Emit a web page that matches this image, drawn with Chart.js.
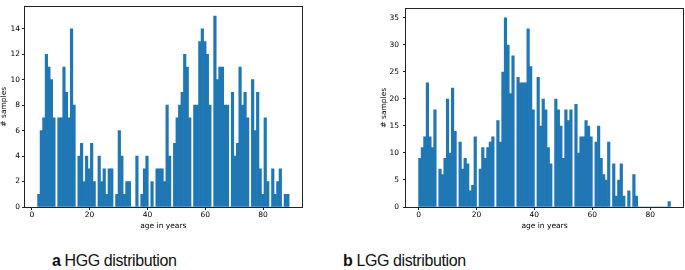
<!DOCTYPE html>
<html><head><meta charset="utf-8">
<script src="https://cdn.jsdelivr.net/npm/chart.js@4/dist/chart.umd.min.js"></script>
<style>
html,body{margin:0;padding:0;background:#fff;width:685px;height:270px;overflow:hidden;position:relative}
.box{position:absolute;top:0}
.cap{position:absolute;font-family:"Liberation Sans",Arial,sans-serif;font-size:16px;line-height:16px;color:#111;white-space:nowrap;letter-spacing:-0.4px}
</style></head><body>
<div class="box" style="left:0px"><canvas id="c1" width="310" height="232"></canvas></div>
<div class="box" style="left:370px"><canvas id="c2" width="315" height="232"></canvas></div>
<div class="cap" style="left:52px;top:253px"><b>a</b> HGG distribution</div>
<div class="cap" style="left:343px;top:253px"><b>b</b> LGG distribution</div>
<script>
// Histogram data: 100 bins over each age range
const NUM_BINS = 100;
const HGG_AGE_RANGE = [2, 89];
const LGG_AGE_RANGE = [0, 87];
const HGG_COUNTS = [
  1, 6, 7, 12, 11, 10, 7, 0, 7, 7,
  11, 9, 7, 14, 8, 0, 4, 5, 2, 4,
  3, 5, 2, 0, 4, 2, 3, 1, 3, 3,
  0, 1, 6, 4, 1, 2, 2, 0, 0, 4,
  0, 1, 3, 4, 0, 2, 0, 3, 3, 3,
  2, 8, 4, 0, 5, 7, 8, 9, 12, 11,
  7, 0, 8, 8, 13, 14, 13, 12, 8, 0,
  15, 10, 11, 11, 8, 8, 0, 9, 4, 5,
  11, 8, 9, 7, 0, 10, 6, 9, 3, 1,
  7, 2, 0, 3, 1, 2, 3, 0, 1, 1
];
const LGG_COUNTS = [
  9, 11, 13, 23, 13, 11, 18, 0, 7, 6,
  9, 20, 10, 22, 14, 0, 12, 7, 9, 8,
  3, 4, 13, 0, 7, 11, 9, 11, 12, 13,
  0, 16, 12, 25, 35, 30, 21, 28, 0, 24,
  23, 23, 23, 33, 26, 18, 0, 24, 15, 20,
  18, 11, 8, 0, 20, 18, 15, 9, 18, 16,
  18, 0, 19, 10, 13, 13, 16, 15, 13, 0,
  12, 15, 9, 6, 5, 12, 0, 8, 2, 5,
  8, 2, 0, 3, 0, 6, 2, 0, 0, 0,
  0, 0, 0, 0, 0, 0, 0, 0, 0, 1
];
const X_TICK_STEP = 20;
const HGG_Y_STEP = 2;
const LGG_Y_STEP = 5;
const X_TITLE = 'age in years';
const Y_TITLE = '# samples';

const BAR_COLOR = '#1f77b4';
const TXT = '#000';
const FONT = {family: "'DejaVu Sans', sans-serif", size: 7.5};

function binPoints(range, counts) {
  const w = (range[1] - range[0]) / NUM_BINS;
  return counts.map((c, i) => ({x: range[0] + (i + 0.5) * w, y: c}));
}

const framePlugin = {
  id: 'frame',
  afterDraw(chart) {
    const {ctx, chartArea: a} = chart;
    ctx.save();
    ctx.strokeStyle = '#222';
    ctx.lineWidth = 1;
    const l = Math.round(a.left), t = Math.round(a.top), r = Math.round(a.right), b = Math.round(a.bottom);
    ctx.strokeRect(l - 0.5, t - 0.5, r - l + 1, b - t + 1);
    ctx.restore();
  }
};

function makeChart(id, range, counts, yStep, cfg) {
  const span = range[1] - range[0];
  const maxC = Math.max(...counts);
  new Chart(document.getElementById(id), {
    type: 'bar',
    data: {datasets: [{
      data: binPoints(range, counts),
      backgroundColor: BAR_COLOR,
      borderWidth: 0,
      barPercentage: 1,
      categoryPercentage: 1
    }]},
    plugins: [framePlugin],
    options: {
      responsive: false,
      animation: false,
      devicePixelRatio: 1,
      layout: {padding: {left: 0, top: 2, right: cfg.padRight, bottom: 0}},
      plugins: {legend: {display: false}, tooltip: {enabled: false}},
      scales: {
        x: {
          type: 'linear',
          offset: false,
          min: range[0] - 0.05 * span,
          max: range[1] + 0.05 * span,
          afterFit: s => { s.height = 25; },
          grid: {display: true, offset: false, drawOnChartArea: false, drawTicks: true, tickLength: 3, color: '#222', lineWidth: 1},
          border: {display: false},
          ticks: {stepSize: X_TICK_STEP, includeBounds: false, padding: 1, font: FONT, color: TXT, maxRotation: 0, autoSkip: false},
          title: {display: true, text: X_TITLE, font: FONT, color: TXT, padding: {top: 0, bottom: 1.5}}
        },
        y: {
          type: 'linear',
          min: 0,
          max: maxC * 1.05,
          afterFit: s => { s.width = cfg.yWidth; },
          grid: {display: true, drawOnChartArea: false, drawTicks: true, tickLength: 3, color: '#222', lineWidth: 1},
          border: {display: false},
          ticks: {stepSize: yStep, includeBounds: false, padding: cfg.yPad, font: FONT, color: TXT, autoSkip: false},
          title: {display: true, text: Y_TITLE, font: FONT, color: TXT, padding: {top: cfg.yTitlePad, bottom: 0}}
        }
      }
    }
  });
}

makeChart('c1', HGG_AGE_RANGE, HGG_COUNTS, HGG_Y_STEP, {padRight: 8.3, yWidth: 25, yPad: 2, yTitlePad: 0});
makeChart('c2', LGG_AGE_RANGE, LGG_COUNTS, LGG_Y_STEP, {padRight: 2, yWidth: 36, yPad: 4, yTitlePad: 9.5});
</script>
</body></html>
